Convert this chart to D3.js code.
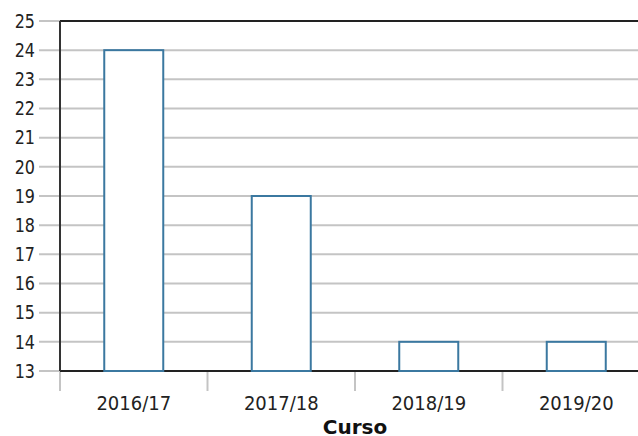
<!DOCTYPE html>
<html>
<head>
<meta charset="utf-8">
<script src="https://cdn.jsdelivr.net/npm/d3@7"></script>
<style>
  body { margin: 0; background: #fff; }
  svg { display: block; font-family: "DejaVu Sans", sans-serif; }
</style>
</head>
<body>
<svg id="chart" width="638" height="436"></svg>
<script>
// Data
const cursos = ['2016/17', '2017/18', '2018/19', '2019/20'];
const valores = [24, 19, 14, 14];
const yTicks = [13, 14, 15, 16, 17, 18, 19, 20, 21, 22, 23, 24, 25];
const xTitle = 'Curso';

// Dimensions
const margin = { top: 21, left: 60 };
const innerWidth = 590;
const innerHeight = 350;

const svg = d3.select('#chart');
const g = svg.append('g')
    .attr('transform', `translate(${margin.left}, ${margin.top})`);

// Scales
const xScale = d3.scaleBand()
    .domain(cursos)
    .range([0, innerWidth])
    .padding(0);

const yScale = d3.scaleLinear()
    .domain([13, 25])
    .range([innerHeight, 0]);

// Grid
g.append('g')
    .selectAll('line')
    .data(yTicks)
    .enter()
    .append('line')
    .attr('x1', -21)
    .attr('x2', innerWidth)
    .attr('y1', d => yScale(d))
    .attr('y2', d => yScale(d))
    .attr('stroke', '#c4c4c4')
    .attr('stroke-width', 2);

// Y labels (glyphs a bit taller than wide in the reference)
g.append('g')
    .selectAll('text')
    .data(yTicks)
    .enter()
    .append('text')
    .attr('transform', d => `translate(-25, ${yScale(d)}) scale(1, 1.18)`)
    .attr('dy', '0.36em')
    .attr('text-anchor', 'end')
    .attr('font-size', 16)
    .attr('fill', '#222')
    .text(d => d);

// X ticks at band edges
const edges = cursos.map(c => xScale(c)).concat([innerWidth]);
g.append('g')
    .selectAll('line')
    .data(edges)
    .enter()
    .append('line')
    .attr('x1', d => d)
    .attr('x2', d => d)
    .attr('y1', innerHeight)
    .attr('y2', innerHeight + 20)
    .attr('stroke', '#c4c4c4')
    .attr('stroke-width', 2);

// X labels
g.append('g')
    .selectAll('text')
    .data(cursos)
    .enter()
    .append('text')
    .attr('transform', d => `translate(${xScale(d) + xScale.bandwidth() / 2}, ${innerHeight + 39}) scale(1, 1.08)`)
    .attr('text-anchor', 'middle')
    .attr('font-size', 18)
    .attr('fill', '#222')
    .text(d => d);

// Frame
g.append('line')
    .attr('x1', 0).attr('x2', innerWidth)
    .attr('y1', 0).attr('y2', 0)
    .attr('stroke', '#222').attr('stroke-width', 2);
g.append('line')
    .attr('x1', 0).attr('x2', innerWidth)
    .attr('y1', innerHeight).attr('y2', innerHeight)
    .attr('stroke', '#222').attr('stroke-width', 2);
g.append('line')
    .attr('x1', 0).attr('x2', 0)
    .attr('y1', 0).attr('y2', innerHeight)
    .attr('stroke', '#333').attr('stroke-width', 2);

// Bars
const barW = xScale.bandwidth() * 0.4;
g.append('g')
    .selectAll('rect')
    .data(cursos)
    .enter()
    .append('rect')
    .attr('x', d => xScale(d) + (xScale.bandwidth() - barW) / 2)
    .attr('y', (d, i) => yScale(valores[i]))
    .attr('width', barW)
    .attr('height', (d, i) => yScale(13) - yScale(valores[i]))
    .attr('fill', '#fff')
    .attr('stroke', '#3b78a0')
    .attr('stroke-width', 2);

// Axis title
g.append('text')
    .attr('x', innerWidth / 2)
    .attr('y', innerHeight + 63)
    .attr('text-anchor', 'middle')
    .attr('font-size', 20)
    .attr('font-weight', 'bold')
    .attr('fill', '#111')
    .text(xTitle);
</script>
</body>
</html>
